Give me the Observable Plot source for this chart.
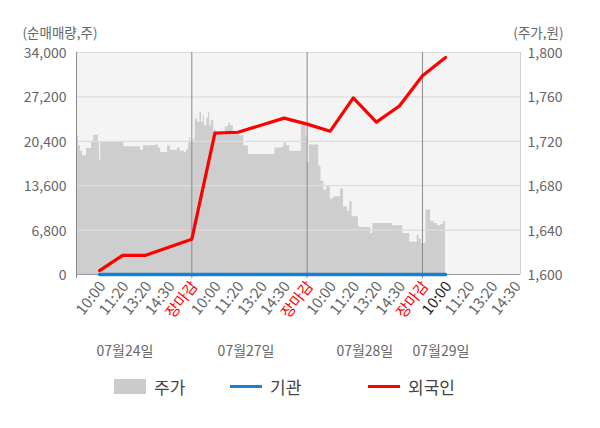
<!DOCTYPE html>
<html>
<head>
<meta charset="utf-8">
<script src="https://cdn.jsdelivr.net/npm/d3@7"></script>
<script src="https://cdn.jsdelivr.net/npm/@observablehq/plot@0.6"></script>
<style>
  body { margin: 0; background: #fff; font-family: "Noto Sans CJK KR", "Noto Sans", sans-serif; }
  #wrap { position: relative; width: 600px; height: 428px; overflow: hidden; }
  .legend { position: absolute; top: 372px; left: 0; width: 600px; height: 28px; font-size: 17px; color: #444; }
  .item { position: absolute; top: 0; display: flex; align-items: center; height: 28px; }
  .sw { display: inline-block; width: 32px; margin-right: 8px; }
</style>
</head>
<body>
<div id="wrap">
  <div id="chart"></div>
  <div class="legend">
    <div class="item" style="left:114px"><span class="sw" style="height:15px;background:#cccccc"></span>주가</div>
    <div class="item" style="left:230px"><span class="sw" style="height:3px;background:#1a7fd0"></span>기관</div>
    <div class="item" style="left:368px"><span class="sw" style="height:3px;background:#ff0000"></span>외국인</div>
  </div>
</div>
<script>
// ---- data ----
const leftTicks = [0, 6800, 13600, 20400, 27200, 34000];
const rightTicks = [1600, 1640, 1680, 1720, 1760, 1800];
const xTickPos = [0.2,0.4,0.6,0.8,1.0, 1.2,1.4,1.6,1.8,2.0, 2.2,2.4,2.6,2.8,3.0, 3.2,3.4,3.6,3.8];
const xTickLabels = ["10:00","11:20","13:20","14:30","장마감",
                     "10:00","11:20","13:20","14:30","장마감",
                     "10:00","11:20","13:20","14:30","장마감",
                     "10:00","11:20","13:20","14:30"];
const dayLabels = ["07월24일","07월27일","07월28일","07월29일"];
const dayLabelPos = [0.42, 1.47, 2.5, 3.16];
const dayBounds = [1, 2, 3];

const flowTime = [0.2,0.4,0.6,0.8,1.0,1.2,1.4,1.6,1.8,2.0,2.2,2.4,2.6,2.8,3.0,3.2];
const foreignNet = [600,2940,2940,4170,5410,21640,21790,22870,23950,23030,21950,27050,23340,25810,30450,33230];
const instNet = [0,0,0,0,0,0,0,0,0,0,0,0,0,0,0,0];

const priceTime = [0,0.017,0.035,0.052,0.07,0.087,0.12,0.13,0.15,0.18,0.19,0.2,0.21,0.4,0.41,0.53,0.555,0.58,0.61,0.62,0.69,0.71,0.73,0.77,0.79,0.815,0.85,0.876,0.9,0.937,0.954,0.97,0.98,0.99,
  1.0,1.02,1.03,1.05,1.07,1.085,1.1,1.11,1.13,1.145,1.155,1.17,1.19,1.21,1.27,1.29,1.32,1.335,1.36,1.405,1.45,1.49,1.71,1.72,1.79,1.8,1.82,1.85,1.935,1.95,1.98,1.99,
  2.0,2.02,2.09,2.1,2.12,2.145,2.17,2.2,2.23,2.26,2.29,2.315,2.35,2.37,2.39,2.42,2.445,2.46,2.54,2.55,2.57,2.72,2.74,2.81,2.83,2.87,2.89,2.94,2.955,2.97,2.99,
  3.01,3.03,3.06,3.07,3.1,3.13,3.16,3.18,3.2];
const priceValue = [1725,1716,1711,1707,1707,1713.6,1713.6,1720,1725.5,1725.5,1720,1703,1719,1719,1715,1715,1712,1716,1715,1716,1717,1714,1710,1710,1716,1712,1712,1714,1711,1709.7,1712,1718,1723,1720,
  1720,1722,1740,1737,1746,1737,1743,1734,1741,1746,1734,1739,1730,1725,1725,1733,1736.4,1734,1729,1725,1716,1708,1708,1714,1715,1718.8,1716,1711,1711,1734,1735,1725,
  1701,1716.6,1716.6,1697.5,1684,1676,1679,1668,1670,1670,1677,1661,1657,1665.7,1652,1652,1643,1642.4,1642.4,1637,1646,1646,1644,1644,1637,1637,1629,1629,1635.5,1632,1628,
  1628,1658,1658,1648,1646,1644,1645,1647.5,1647.5];

// ---- helpers ----
const toLeft = p => (p - 1600) / 200 * 34000;
const fromLeft = v => 1600 + v / 34000 * 200;
const fmt = d3.format(",");
const priceIdx = priceTime.map((_, i) => i);
const flowIdx = flowTime.map((_, i) => i);
const tickIdx = xTickPos.map((_, i) => i);
const dayIdx = dayLabels.map((_, i) => i);
const tickColor = i => xTickLabels[i] === "장마감" ? "#ff0000" : (i === 15 ? "#222222" : "#666666");

const FONT = '"Noto Sans CJK KR", "Noto Sans", sans-serif';

const chart = Plot.plot({
  width: 600,
  height: 370,
  marginTop: 52,
  marginBottom: 96,
  marginLeft: 76,
  marginRight: 80,
  style: { fontFamily: FONT, fontSize: "14px", color: "#666", background: "transparent", overflow: "visible" },
  x: { domain: [0, 3.85], axis: null },
  y: { domain: [0, 34000], axis: null },
  color: { type: "identity" },
  marks: [
    Plot.frame({ fill: "#f4f4f4", stroke: null }),
    Plot.areaY(priceIdx, { x: i => priceTime[i], y1: 0, y2: i => toLeft(priceValue[i]), curve: "step-after", fill: "#cecece" }),
    Plot.ruleY(leftTicks.slice(1), { stroke: "#dddddd", strokeWidth: 1.2 }),
    Plot.ruleX(dayBounds, { stroke: "#8a8a8a", strokeWidth: 1, insetBottom: -4 }),
    Plot.ruleX([0], { stroke: "#8a8a8a", insetBottom: -4 }),
    Plot.ruleX([3.85], { stroke: "#d0d0d0" }),
    Plot.ruleY([0], { stroke: "#999999" }),
    Plot.lineY(flowIdx, { x: i => flowTime[i], y: i => instNet[i], stroke: "#1a7fd0", strokeWidth: 3.5 }),
    Plot.lineY(flowIdx, { x: i => flowTime[i], y: i => foreignNet[i], stroke: "#ff0000", strokeWidth: 3.2 }),
    // left axis labels
    Plot.axisY(leftTicks, { anchor: "left", tickSize: 0, tickPadding: 10, tickFormat: fmt, label: null, fontSize: 14, fill: "#666", dy: 1 }),
    // right axis labels (price)
    Plot.axisY(leftTicks, { anchor: "right", tickSize: 0, tickPadding: 7, tickFormat: v => fmt(Math.round(fromLeft(v))), label: null, fontSize: 14, fill: "#666", dy: 1 }),
    // x tick labels
    Plot.text(tickIdx, { x: i => xTickPos[i], text: i => xTickLabels[i], frameAnchor: "bottom", dy: 9, dx: 3,
      rotate: -52, textAnchor: "end", lineAnchor: "middle", fill: tickColor, fontSize: 15 }),
    // day labels
    Plot.text(dayIdx, { x: i => dayLabelPos[i], text: i => dayLabels[i], frameAnchor: "bottom", dy: 81, fill: "#666", fontSize: 14 }),
    // axis titles
    Plot.text(["(순매매량,주)"], { frameAnchor: "top-left", dx: -54, dy: -19, lineAnchor: "middle", textAnchor: "start", fill: "#666", fontSize: 13.5 }),
    Plot.text(["(주가,원)"], { frameAnchor: "top-right", dx: 43, dy: -19, lineAnchor: "middle", textAnchor: "end", fill: "#666", fontSize: 13.5 })
  ]
});
document.getElementById("chart").appendChild(chart);
</script>
</body>
</html>
